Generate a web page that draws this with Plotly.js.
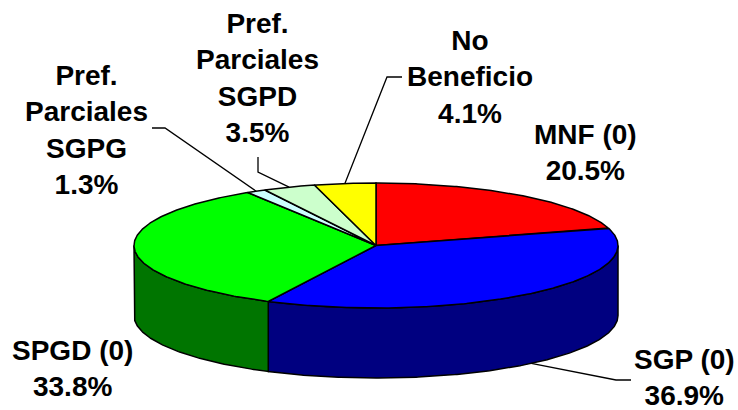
<!DOCTYPE html>
<html><head><meta charset="utf-8">
<script src="https://cdn.plot.ly/plotly-3.0.1.min.js"></script>
<style>html,body{margin:0;padding:0;background:#fff}#chart{width:738px;height:410px}</style>
</head><body><div id="chart"></div>
<script>
// ---- data ----
const categories = ['MNF (0)', 'SGP (0)', 'SPGD (0)', 'Pref.<br>Parciales<br>SGPG', 'Pref.<br>Parciales<br>SGPD', 'No<br>Beneficio'];
const percents = [20.5, 36.9, 33.8, 1.3, 3.5, 4.1];

// ---- styles / layout ----
const topColors = ['#ff0000', '#0000ff', '#00ff00', '#ccffff', '#ccffcc', '#ffff00'];
const sideColors = ['#800000', '#000080', '#007500', '#669999', '#669966', '#808000'];
const labelPos = [[585, 152], [684, 377], [72, 368], [86, 130], [257, 78], [470, 77]];
// leader lines: [labelside points], endpoint on slice (top or bottom edge)
const leaders = {
  1: {pts: [[631, 380], [616, 380]], bottom: true},
  3: {pts: [[152, 128], [165, 128]], bottom: false},
  4: {pts: [[258, 157], [258, 172]], bottom: false},
  5: {pts: [[402, 77], [387, 77]], bottom: false}
};
const CX = 376, CY = 245.5, RX = 242, RY = 62.5, DEPTH = 70;

const total = percents.reduce((a, b) => a + b, 0);
function pt(f, dy) {
  const t = (90 - 360 * f) * Math.PI / 180;
  return [CX + RX * Math.cos(t), CY - RY * Math.sin(t) + (dy || 0)];
}
function arc(f0, f1, dy) {
  const n = Math.max(2, Math.ceil((f1 - f0) * 720));
  const out = [];
  for (let i = 0; i <= n; i++) out.push(pt(f0 + (f1 - f0) * i / n, dy));
  return out;
}

const starts = [];
let acc = 0;
percents.forEach(v => { starts.push(acc / total); acc += v; });
const ends = starts.map((s, i) => s + percents[i] / total);

const traces = [];
// sides (visible front half: f in [0.25, 0.75])
percents.forEach((v, i) => {
  const a = Math.max(starts[i], 0.25), b = Math.min(ends[i], 0.75);
  if (b <= a) return;
  const topA = arc(a, b, 0);
  const botA = arc(a, b, DEPTH).reverse();
  const poly = topA.concat(botA);
  poly.push(poly[0]);
  traces.push({
    type: 'scatter', mode: 'lines', x: poly.map(p => p[0]), y: poly.map(p => p[1]),
    fill: 'toself', fillcolor: sideColors[i], line: {color: '#000', width: 1.5},
    hoverinfo: 'skip', showlegend: false
  });
});
// tops
percents.forEach((v, i) => {
  const poly = [[CX, CY]].concat(arc(starts[i], ends[i], 0));
  poly.push([CX, CY]);
  traces.push({
    type: 'scatter', mode: 'lines', x: poly.map(p => p[0]), y: poly.map(p => p[1]),
    fill: 'toself', fillcolor: topColors[i], line: {color: '#000', width: 1.5},
    hoverinfo: 'skip', showlegend: false, name: categories[i].replace(/<br>/g, ' ')
  });
});

const annotations = categories.map((c, i) => ({
  x: labelPos[i][0], y: labelPos[i][1], xref: 'x', yref: 'y',
  text: '<b>' + c + '<br>' + percents[i].toFixed(1) + '%</b>',
  showarrow: false, xanchor: 'center', yanchor: 'middle', align: 'center',
  font: {family: 'Liberation Sans, Arial, sans-serif', size: 28, color: '#000'}
}));

const shapes = Object.keys(leaders).map(k => {
  const i = +k, L = leaders[k];
  const mid = (starts[i] + ends[i]) / 2;
  const e = pt(mid, L.bottom ? DEPTH : 0);
  const pts = L.pts.concat([e]);
  const path = pts.map((p, j) => (j ? 'L' : 'M') + p[0].toFixed(1) + ',' + p[1].toFixed(1)).join(' ');
  return {type: 'path', xref: 'x', yref: 'y', path: path, line: {color: '#000', width: 1.3}};
});

const layout = {
  width: 738, height: 410,
  margin: {l: 0, r: 0, t: 0, b: 0},
  paper_bgcolor: '#fff', plot_bgcolor: '#fff',
  xaxis: {range: [0, 738], visible: false, fixedrange: true},
  yaxis: {range: [410, 0], visible: false, fixedrange: true},
  annotations: annotations, shapes: shapes, showlegend: false
};
Plotly.newPlot('chart', traces, layout, {staticPlot: true});
</script>
</body></html>
